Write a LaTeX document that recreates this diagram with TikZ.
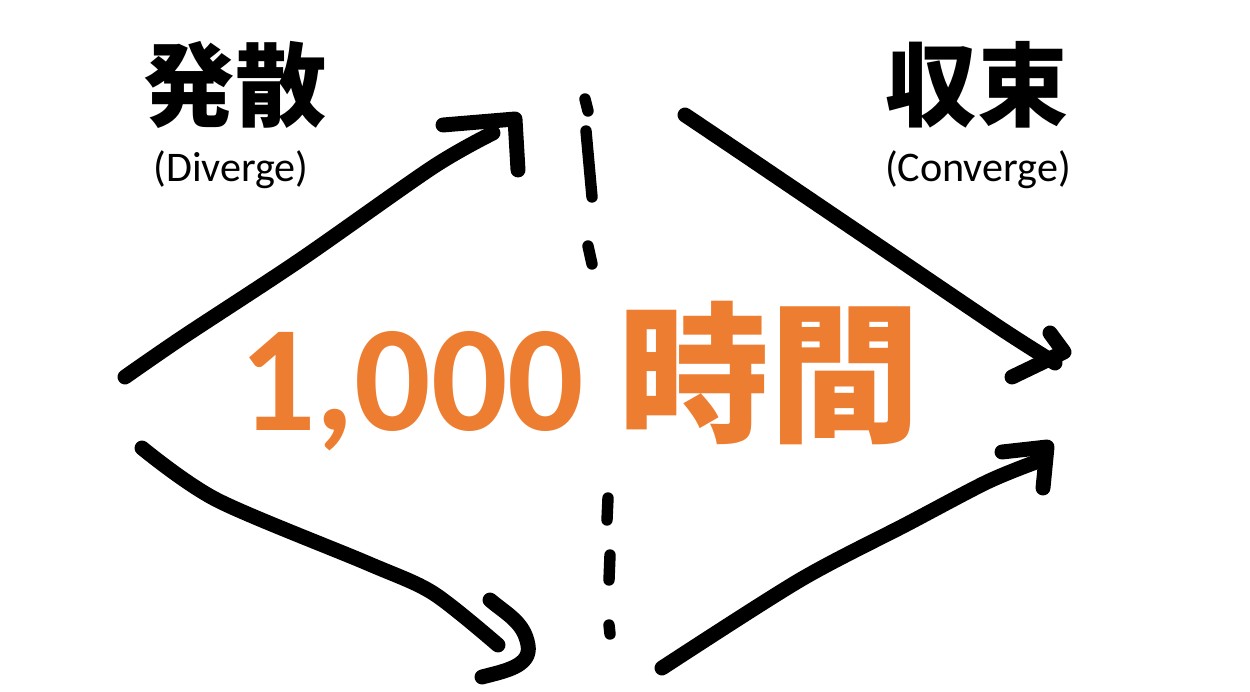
\documentclass[tikz,border=0pt]{standalone}
\usepackage{fontspec}
\setmainfont{Carlito}
\newfontfamily\jpfont{Noto Sans CJK JP}
\definecolor{accent}{HTML}{ED7D31}

\begin{document}
\begin{tikzpicture}[x=0.02cm, y=-0.02cm,
    pen/.style={line width=8.5pt, line cap=round, line join=round},
    tick/.style={line width=6.5pt, line cap=round}]
    \useasboundingbox (0,0) rectangle (1250,692);

    % titles
    \node[anchor=base] (div) at (235,120) {\fontsize{52}{56}\selectfont\jpfont\bfseries 発散};
    \node[anchor=base] (divsub) at (231,182) {\fontsize{24}{28}\selectfont (Diverge)};
    \node[anchor=base] (con) at (977,120) {\fontsize{52}{56}\selectfont\jpfont\bfseries 収束};
    \node[anchor=base] (consub) at (978,182) {\fontsize{24}{28}\selectfont (Converge)};
    \node[anchor=base, text=accent] (hours) at (580,430)
        {\fontsize{86}{92}\selectfont\bfseries 1,000 {\jpfont 時間}};

    % upper left arrow
    \coordinate (a1) at (125,377);
    \coordinate (a2) at (183,337);
    \coordinate (a3) at (300,260);
    \coordinate (a4) at (433,167);
    \coordinate (a5) at (493,133);
    \coordinate (ah1) at (443,125);
    \coordinate (ah2) at (515,119);
    \coordinate (ah3) at (518,170);

    % upper right arrow
    \coordinate (b1) at (685,115);
    \coordinate (b2) at (740,152);
    \coordinate (b3) at (870,240);
    \coordinate (b4) at (1000,328);
    \coordinate (b5) at (1055,363);
    \coordinate (bh1) at (1050,333);
    \coordinate (bh2) at (1064,352);
    \coordinate (bh3) at (1012,377);

    % lower left arrow
    \coordinate (c1) at (142,448);
    \coordinate (c2) at (217,500);
    \coordinate (c3) at (367,563);
    \coordinate (c4) at (433,593);
    \coordinate (c5) at (498,645);
    \coordinate (ch1) at (490,600);
    \coordinate (ch2) at (528,645);
    \coordinate (ch3) at (482,677);

    % lower right arrow
    \coordinate (d1) at (662,668);
    \coordinate (d2) at (800,580);
    \coordinate (d3) at (907,524);
    \coordinate (d4) at (987,482);
    \coordinate (d5) at (1036,462);
    \coordinate (dh1) at (1002,452);
    \coordinate (dh2) at (1047,447);
    \coordinate (dh3) at (1043,488);

    \draw[pen] plot[smooth] coordinates {(a1) (a2) (a3) (a4) (a5)};
    \draw[pen] (ah1) -- (ah2) -- (ah3);
    \draw[pen] plot[smooth] coordinates {(b1) (b2) (b3) (b4) (b5)};
    \draw[pen] (bh1) -- (bh2) -- (bh3);
    \draw[pen] plot[smooth] coordinates {(c1) (c2) (c3) (c4) (c5)};
    \draw[pen] (ch1) to[out=-40, in=100] (ch2) to[out=-80, in=15] (ch3);
    \draw[pen] plot[smooth] coordinates {(d1) (d2) (d3) (d4) (d5)};
    \draw[pen] (dh1) -- (dh2) -- (dh3);

    % dashed divider
    \coordinate (t1) at (585,99);   \coordinate (u1) at (588,111);
    \coordinate (t2) at (586,131);  \coordinate (u2) at (592,197);
    \coordinate (t3) at (588,246);  \coordinate (u3) at (592,264);
    \coordinate (t4) at (608,498);  \coordinate (u4) at (607,520);
    \coordinate (t5) at (610,555);  \coordinate (u5) at (609,580);
    \coordinate (t6) at (609,625);  \coordinate (u6) at (610,634);
    \foreach \i in {1,...,6}
        \draw[tick] (t\i) -- (u\i);
\end{tikzpicture}
\end{document}
